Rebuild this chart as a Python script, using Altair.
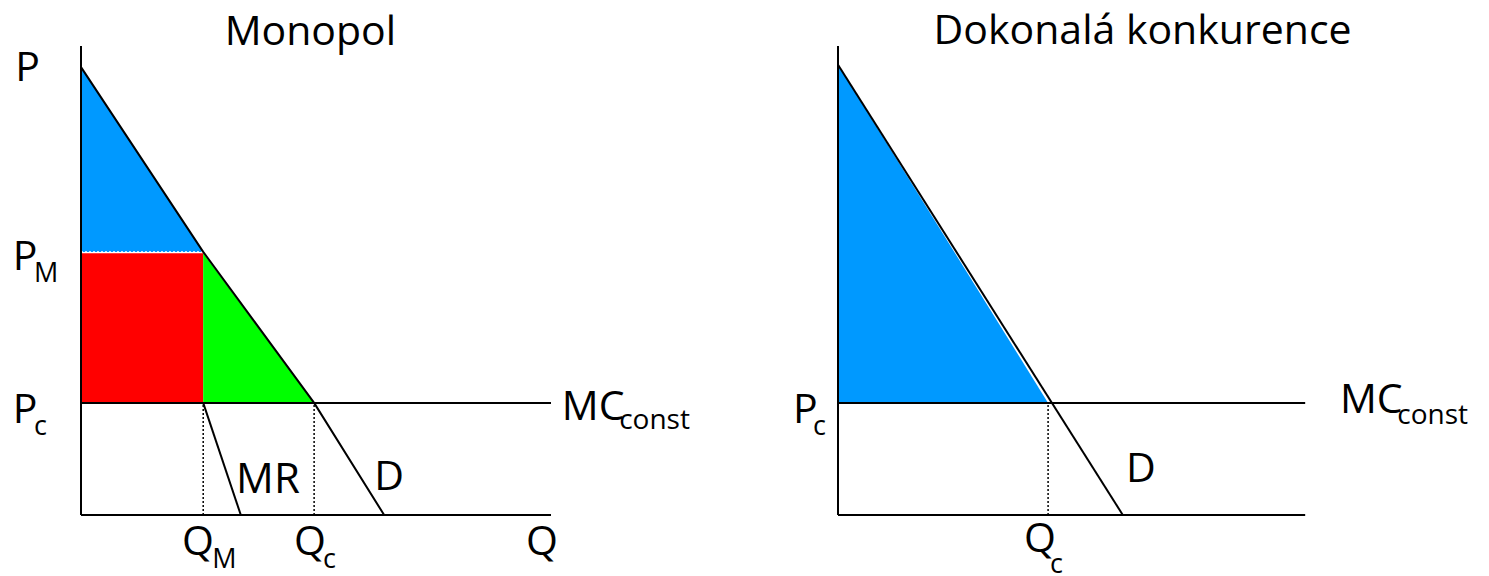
import altair as alt
import pandas as pd

# ---------------- data ----------------
# common price levels (P axis 0..100)
p_axis_top = 100
p_c = 23.9          # constant marginal cost / competitive price
# Monopol panel
mono_q_axis_end = 100
mono_demand_q = [0, 26, 49.6, 64.5]
mono_demand_p = [95.5, 56.1, 23.9, 0]
mono_mr_q = [26, 34.0]
mono_mr_p = [23.9, 0]
mono_p_m = 56.1
mono_q_m = 26
mono_q_c = 49.6
# Dokonalá konkurence panel
comp_q_axis_end = 99.4
comp_demand_q = [0, 60.6]
comp_demand_p = [96, 0]
comp_surplus_q = [0, 44.7]
comp_surplus_p = [96, 23.9]
comp_q_c = 44.7

# annotations: text, q, p, size
mono_labels = [
    ("P", -14.0, 92.5, 41), ("P", -14.5, 52.2, 41), ("M", -10.0, 49.7, 27),
    ("P", -14.5, 19.6, 41), ("c", -10.0, 17.1, 27),
    ("MR", 33.0, 4.7, 42), ("D", 62.4, 5.3, 41),
    ("Q", 21.5, -8.5, 41), ("M", 27.9, -11.3, 27),
    ("Q", 45.3, -8.5, 41), ("c", 51.5, -11.3, 27),
    ("Q", 94.7, -8.5, 41),
    ("MC", 102.3, 20.3, 41), ("const", 114.5, 18.4, 28),
]
comp_labels = [
    ("P", -9.6, 19.6, 41), ("c", -5.3, 17.1, 27),
    ("MC", 106.8, 21.7, 41), ("const", 119.0, 19.4, 28),
    ("D", 61.3, 7.0, 41),
    ("Q", 39.6, -7.9, 41), ("c", 45.1, -12.4, 27),
]
mono_title = ("Monopol", 48.8, 100.2)
comp_title = ("Dokonalá konkurence", 64.8, 100.4)

# ---------------- layout ----------------
FONT = "Open Sans"
KX, KY = 4.7, 4.69
H = 568
P_MAX = 100 + (46 - 8) / KY
P_MIN = P_MAX - H / KY
BLUE, RED, GREEN = "#0099FF", "#FF0000", "#00FF00"


def panel(width, origin_px, panel_left_px, layers_fn):
    qmin = -(origin_px - panel_left_px) / KX
    xs = alt.Scale(domain=[qmin, qmin + width / KX], nice=False, zero=False)
    ys = alt.Scale(domain=[P_MIN, P_MAX], nice=False, zero=False)
    X = lambda f: alt.X(f, type="quantitative", scale=xs, axis=None)
    Y = lambda f: alt.Y(f, type="quantitative", scale=ys, axis=None)
    return alt.layer(*layers_fn(X, Y)).properties(width=width, height=H)


def rules(rows, X, Y, color="black", width=2, dash=None):
    df = pd.DataFrame(rows, columns=["q", "q2", "p", "p2"])
    kw = dict(color=color, strokeWidth=width)
    if dash:
        kw["strokeDash"] = dash
    return alt.Chart(df).mark_rule(**kw).encode(
        x=X("q"), x2="q2", y=Y("p"), y2="p2")


def texts(labels, title, X, Y):
    df = pd.DataFrame(labels, columns=["t", "q", "p", "s"])
    lab = alt.Chart(df).mark_text(font=FONT, align="left", baseline="alphabetic",
                                  color="black").encode(
        x=X("q"), y=Y("p"), text="t:N", size=alt.Size("s:Q", scale=None, legend=None))
    tdf = pd.DataFrame([title], columns=["t", "q", "p"])
    tit = alt.Chart(tdf).mark_text(font=FONT, align="center", baseline="alphabetic",
                                   fontSize=41, color="black").encode(
        x=X("q"), y=Y("p"), text="t:N")
    return [lab, tit]


def mono_layers(X, Y):
    blue = alt.Chart(pd.DataFrame({"q": [0, mono_q_m], "p": [mono_demand_p[0], mono_p_m],
                                   "p2": [mono_p_m, mono_p_m]})).mark_area(
        color=BLUE, opacity=1).encode(x=X("q"), y=Y("p"), y2="p2")
    red = alt.Chart(pd.DataFrame({"q": [0], "q2": [mono_q_m], "p": [p_c],
                                  "p2": [mono_p_m - 0.3]})).mark_rect(
        color=RED).encode(x=X("q"), x2="q2", y=Y("p"), y2="p2")
    green = alt.Chart(pd.DataFrame({"q": [mono_q_m, mono_q_c], "p": [mono_p_m - 0.3, p_c],
                                    "p2": [p_c, p_c]})).mark_area(
        color=GREEN, opacity=1).encode(x=X("q"), y=Y("p"), y2="p2")
    demand = alt.Chart(pd.DataFrame({"q": mono_demand_q, "p": mono_demand_p})).mark_line(
        color="black", strokeWidth=2).encode(x=X("q"), y=Y("p"), order="q:Q")
    mr = alt.Chart(pd.DataFrame({"q": mono_mr_q, "p": mono_mr_p})).mark_line(
        color="black", strokeWidth=2).encode(x=X("q"), y=Y("p"), order="q:Q")
    axes = rules([(0, 0, 0, p_axis_top), (0, mono_q_axis_end, 0, 0),
                  (0, mono_q_axis_end, p_c, p_c)], X, Y)
    dots = rules([(mono_q_m, mono_q_m, 0, p_c), (mono_q_c, mono_q_c, 0, p_c)],
                 X, Y, width=1.5, dash=[2, 2])
    pm_dots = rules([(0, mono_q_m, mono_p_m, mono_p_m)], X, Y, color="white",
                    width=1.5, dash=[2, 2])
    return [blue, red, green, pm_dots, dots, axes, demand, mr] + texts(mono_labels, mono_title, X, Y)


def comp_layers(X, Y):
    blue = alt.Chart(pd.DataFrame({"q": comp_surplus_q, "p": comp_surplus_p,
                                   "p2": [p_c, p_c]})).mark_area(
        color=BLUE, opacity=1).encode(x=X("q"), y=Y("p"), y2="p2")
    demand = alt.Chart(pd.DataFrame({"q": comp_demand_q, "p": comp_demand_p})).mark_line(
        color="black", strokeWidth=2).encode(x=X("q"), y=Y("p"), order="q:Q")
    axes = rules([(0, 0, 0, p_axis_top), (0, comp_q_axis_end, 0, 0),
                  (0, comp_q_axis_end, p_c, p_c)], X, Y)
    dots = rules([(comp_q_c, comp_q_c, 0, p_c)], X, Y, width=1.5, dash=[2, 2])
    return [blue, dots, axes, demand] + texts(comp_labels, comp_title, X, Y)


left = panel(740, 81, 8, mono_layers)
right = panel(733, 838, 748, comp_layers)

chart = alt.hconcat(left, right, spacing=0).properties(padding=0).configure(
    background="white", view=alt.ViewConfig(stroke=None))

chart.save("out.html", embed_options={"renderer": "svg", "actions": False})
